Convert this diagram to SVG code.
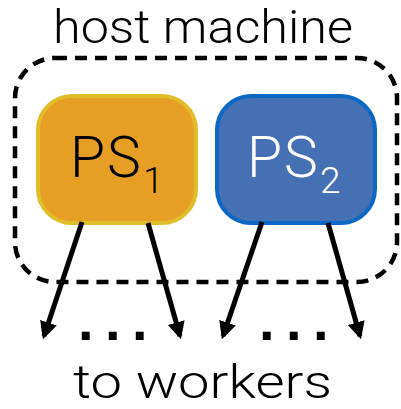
<svg xmlns="http://www.w3.org/2000/svg" width="401" height="409" viewBox="0 0 401 409">
<defs>
<style>
.lbl{font-family:Roboto,"Liberation Sans",Arial,sans-serif;font-weight:300;fill:#000}
.ps{font-family:Roboto,"Liberation Sans",Arial,sans-serif;font-weight:300;font-size:57px;letter-spacing:2px}
.sub{font-size:37px;letter-spacing:0}
.dots{font-family:"Liberation Sans",Arial,sans-serif;font-weight:bold;font-size:56px;letter-spacing:11.5px;fill:#000}
.conn line{stroke:#000;stroke-width:5;marker-end:url(#ah)}
</style>
<marker id="ah" viewBox="0 0 10 10" refX="8" refY="5" markerWidth="3.5" markerHeight="4" orient="auto" markerUnits="strokeWidth">
<path d="M0,0 L10,5 L0,10 z" fill="#000"/>
</marker>
</defs>
<rect width="401" height="409" fill="#fff"/>
<g id="host">
<rect x="15" y="58" width="382" height="224" rx="40" fill="none" stroke="#000" stroke-width="4.5" stroke-dasharray="12 8"/>
<text class="lbl" x="53" y="43" font-size="46" textLength="300" lengthAdjust="spacingAndGlyphs">host machine</text>
</g>
<g id="ps1">
<rect x="38" y="96" width="158" height="127" rx="34" fill="#E69F24" stroke="#DFBE2A" stroke-width="4"/>
<text class="ps" x="70" y="177" fill="#000">PS<tspan class="sub" dy="16">1</tspan></text>
</g>
<g id="ps2">
<rect x="217" y="96" width="158" height="127" rx="34" fill="#4570B4" stroke="#0A68C4" stroke-width="4"/>
<text class="ps" x="247" y="177" fill="#fff">PS<tspan class="sub" dy="16">2</tspan></text>
</g>
<g id="connectors" class="conn">
<line x1="82" y1="222" x2="44" y2="336"/>
<line x1="148" y1="223" x2="180" y2="336"/>
<line x1="262" y1="222" x2="223" y2="336"/>
<line x1="328" y1="223" x2="360" y2="336"/>
</g>
<g id="dots">
<text class="dots" x="78" y="340">...</text>
<text class="dots" x="259" y="340">...</text>
</g>
<g id="workers">
<text class="lbl" x="73" y="398" font-size="46" textLength="259" lengthAdjust="spacingAndGlyphs">to workers</text>
</g>
</svg>
